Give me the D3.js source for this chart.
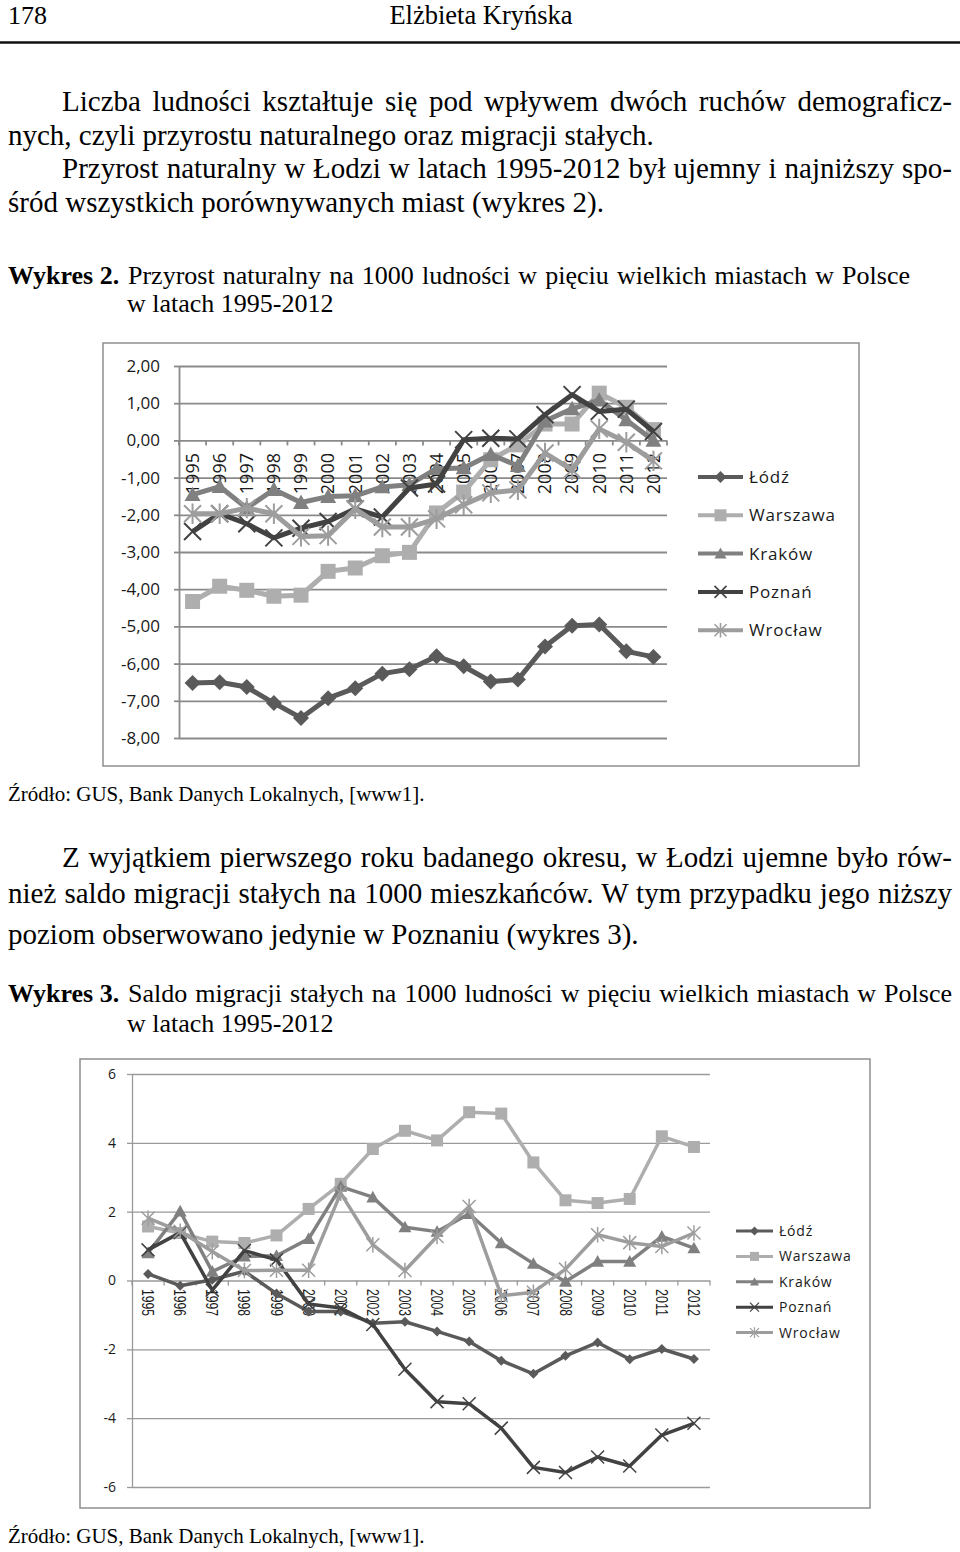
<!DOCTYPE html>
<html>
<head>
<meta charset="utf-8">
<script src="https://cdn.jsdelivr.net/npm/d3@7"></script>
<style>
  body { margin: 0; background: #fff; }
</style>
</head>
<body>
<svg id="canvas"></svg>
<script>
let years = [1995, 1996, 1997, 1998, 1999, 2000, 2001, 2002, 2003,
  2004, 2005, 2006, 2007, 2008, 2009, 2010, 2011, 2012];
let cities = ["Łódź", "Warszawa", "Kraków", "Poznań", "Wrocław"];

// Wykres 2 - przyrost naturalny na 1000 ludnosci
let natLodz = [-6.52, -6.50, -6.63, -7.06, -7.46, -6.93, -6.66, -6.27, -6.15,
  -5.80, -6.07, -6.48, -6.43, -5.54, -4.98, -4.95, -5.67, -5.82];
let natWarszawa = [-4.33, -3.92, -4.03, -4.19, -4.16, -3.52, -3.43, -3.10, -3.01,
  -1.95, -1.39, -0.52, -0.12, 0.44, 0.44, 1.27, 0.89, 0.29];
let natKrakow = [-1.46, -1.24, -1.82, -1.32, -1.67, -1.51, -1.49, -1.25, -1.19,
  -0.76, -0.74, -0.38, -0.68, 0.52, 0.85, 1.08, 0.55, 0.0];
let natPoznan = [-2.45, -1.97, -2.24, -2.62, -2.36, -2.18, -1.84, -2.06, -1.28,
  -1.17, 0.02, 0.06, 0.04, 0.69, 1.23, 0.78, 0.84, 0.24];
let natWroclaw = [-1.97, -1.97, -1.82, -1.97, -2.58, -2.56, -1.84, -2.33, -2.33,
  -2.11, -1.73, -1.41, -1.33, -0.34, -0.79, 0.31, -0.05, -0.55];

// Wykres 3 - saldo migracji stalych na 1000 ludnosci
let migLodz = [0.19, -0.15, 0.02, 0.27, -0.38, -0.90, -0.90, -1.24, -1.20,
  -1.48, -1.77, -2.33, -2.71, -2.19, -1.80, -2.29, -1.99, -2.28];
let migWarszawa = [1.57, 1.38, 1.13, 1.09, 1.31, 2.08, 2.81, 3.82, 4.35,
  4.07, 4.89, 4.85, 3.43, 2.33, 2.25, 2.37, 4.19, 3.88];
let migKrakow = [0.80, 2.01, 0.26, 0.70, 0.72, 1.21, 2.73, 2.42, 1.55,
  1.42, 1.94, 1.09, 0.49, -0.03, 0.55, 0.55, 1.28, 0.94];
let migPoznan = [0.89, 1.39, -0.28, 0.87, 0.60, -0.68, -0.80, -1.28, -2.58,
  -3.52, -3.58, -4.29, -5.43, -5.58, -5.13, -5.39, -4.49, -4.15];
let migWroclaw = [1.81, 1.43, 0.84, 0.29, 0.30, 0.30, 2.54, 1.04, 0.29,
  1.28, 2.15, -0.44, -0.34, 0.33, 1.33, 1.10, 0.99, 1.38];

let ticks1 = [2, 1, 0, -1, -2, -3, -4, -5, -6, -7, -8];
let ticks2 = [6, 4, 2, 0, -2, -4, -6];

let colors = ["#5a5a5a", "#aeaeae", "#808080", "#424242", "#9d9d9d"];
let symbols = ["diamond", "square", "triangle", "x", "star"];

let serif = "'Liberation Serif', 'Times New Roman', serif";
let sans = "'Open Sans', 'Liberation Sans', sans-serif";

let canvas = d3.select("#canvas").attr("width", 960).attr("height", 1552);

// page text around the charts (body 29px, captions 26px)
let pageText = [
  { t: "178", x: 8, y: 24, size: 26 },
  { t: "Elżbieta Kryńska", x: 481, y: 24, size: 26.5, anchor: "middle" },
  { t: "Liczba ludności kształtuje się pod wpływem dwóch ruchów demograficz-", x: 62, y: 111, size: 29, len: 890 },
  { t: "nych, czyli przyrostu naturalnego oraz migracji stałych.", x: 8, y: 145, size: 29 },
  { t: "Przyrost naturalny w Łodzi w latach 1995-2012 był ujemny i najniższy spo-", x: 62, y: 178, size: 29, len: 890 },
  { t: "śród wszystkich porównywanych miast (wykres 2).", x: 8, y: 212, size: 29 },
  { t: "Wykres 2.", x: 8, y: 284, bold: true },
  { t: "Przyrost naturalny na 1000 ludności w pięciu wielkich miastach w Polsce", x: 128, y: 284, len: 782 },
  { t: "w latach 1995-2012", x: 127, y: 312 },
  { t: "Źródło: GUS, Bank Danych Lokalnych, [www1].", x: 8, y: 801, size: 21 },
  { t: "Z wyjątkiem pierwszego roku badanego okresu, w Łodzi ujemne było rów-", x: 62, y: 867, size: 29, len: 890 },
  { t: "nież saldo migracji stałych na 1000 mieszkańców. W tym przypadku jego niższy", x: 8, y: 903, size: 29, len: 944 },
  { t: "poziom obserwowano jedynie w Poznaniu (wykres 3).", x: 8, y: 944, size: 29 },
  { t: "Wykres 3.", x: 8, y: 1002, bold: true },
  { t: "Saldo migracji stałych na 1000 ludności w pięciu wielkich miastach w Polsce", x: 128, y: 1002, len: 824 },
  { t: "w latach 1995-2012", x: 127, y: 1032 },
  { t: "Źródło: GUS, Bank Danych Lokalnych, [www1].", x: 8, y: 1543, size: 21 },
];

pageText.forEach((d) => {
  let el = canvas
    .append("text")
    .attr("x", d.x)
    .attr("y", d.y)
    .attr("font-family", serif)
    .attr("font-size", d.size || 26)
    .attr("font-weight", d.bold ? "bold" : "normal")
    .attr("text-anchor", d.anchor || "start")
    .attr("fill", "#000")
    .text(d.t);
  // justify by widening the gaps between words
  if (d.len) {
    let natural = el.node().getComputedTextLength();
    let gaps = d.t.split(" ").length - 1;
    el.attr("word-spacing", (d.len - natural) / gaps);
  }
});

canvas
  .append("line")
  .attr("x1", 0)
  .attr("x2", 960)
  .attr("y1", 42.5)
  .attr("y2", 42.5)
  .attr("stroke", "#111")
  .attr("stroke-width", 2.5);

let markerPath = (type, h) => {
  if (type == "diamond") return `M0,${-h}L${h},0L0,${h}L${-h},0Z`;
  if (type == "square") return `M${-h},${-h}H${h}V${h}H${-h}Z`;
  if (type == "triangle") return `M0,${-h}L${h},${h * 0.8}L${-h},${h * 0.8}Z`;
  let p = `M${-h},${-h}L${h},${h}M${-h},${h}L${h},${-h}`;
  if (type == "star") p += `M0,${-h * 1.2}L0,${h * 1.2}`;
  return p;
};

let drawMarker = (g, type, cx, cy, h, color, sw) => {
  let filled = type == "diamond" || type == "square" || type == "triangle";
  g.append("path")
    .attr("d", markerPath(type, h))
    .attr("transform", "translate(" + cx + "," + cy + ")")
    .attr("fill", filled ? color : "none")
    .attr("stroke", filled ? "none" : color)
    .attr("stroke-width", sw);
};

let drawChart = (cfg) => {
  let g = canvas.append("g");

  g.append("rect")
    .attr("x", cfg.frame[0])
    .attr("y", cfg.frame[1])
    .attr("width", cfg.frame[2] - cfg.frame[0])
    .attr("height", cfg.frame[3] - cfg.frame[1])
    .attr("fill", "none")
    .attr("stroke", "#8f8f8f")
    .attr("stroke-width", 1.5);

  let xScale = d3.scaleBand().domain(years).range([cfg.left, cfg.right]);
  let yScale = d3.scaleLinear().domain(cfg.domain).range([cfg.bottom, cfg.top]);
  let bw = xScale.bandwidth();

  // gridlines
  g.append("g")
    .attr("transform", "translate(" + cfg.left + ",0)")
    .call(d3.axisLeft(yScale).tickValues(cfg.ticks).tickSize(-(cfg.right - cfg.left)).tickFormat(""))
    .call((a) => a.select(".domain").remove())
    .selectAll("line")
    .attr("stroke", cfg.gridColor)
    .attr("stroke-width", cfg.gridW);

  // y axis
  let yAxis = g
    .append("g")
    .attr("transform", "translate(" + cfg.left + ",0)")
    .call(
      d3.axisLeft(yScale)
        .tickValues(cfg.ticks)
        .tickFormat(cfg.fmt)
        .tickSize(5)
        .tickSizeOuter(0)
        .tickPadding(cfg.pad)
    );
  yAxis.selectAll("path, line").attr("stroke", cfg.gridColor).attr("stroke-width", cfg.gridW);
  yAxis
    .selectAll("text")
    .attr("font-family", sans)
    .attr("font-size", cfg.labelSize)
    .attr("fill", "#1a1a1a");

  // category ticks on the zero line
  let y0 = yScale(0);
  g.selectAll(".ctick")
    .data(years.concat(["end"]))
    .enter()
    .append("line")
    .attr("x1", (d) => (d == "end" ? cfg.right : xScale(d)))
    .attr("x2", (d) => (d == "end" ? cfg.right : xScale(d)))
    .attr("y1", y0)
    .attr("y2", y0 + 5)
    .attr("stroke", cfg.gridColor)
    .attr("stroke-width", cfg.gridW);

  // year labels
  g.selectAll(".year")
    .data(years)
    .enter()
    .append("text")
    .attr("transform", (d) => "translate(" + (xScale(d) + bw / 2) + "," + cfg.yearY + ") rotate(" + cfg.yearRotate + ")")
    .attr("dy", "0.35em")
    .attr("text-anchor", cfg.yearRotate < 0 ? "end" : "start")
    .attr("font-family", cfg.yearFont)
    .attr("font-size", cfg.yearSize)
    .attr("fill", "#1a1a1a")
    .each(function () {
      if (cfg.yearLen) d3.select(this).attr("textLength", cfg.yearLen).attr("lengthAdjust", "spacingAndGlyphs");
    })
    .text((d) => d);

  // series
  let line = d3
    .line()
    .x((d, i) => xScale(years[i]) + bw / 2)
    .y((d) => yScale(d));

  cfg.series.forEach((vals, s) => {
    g.append("path")
      .datum(vals)
      .attr("d", line)
      .attr("fill", "none")
      .attr("stroke", colors[s])
      .attr("stroke-width", cfg.lineW)
      .attr("stroke-linejoin", "round");
    vals.forEach((v, i) => {
      drawMarker(g, symbols[s], xScale(years[i]) + bw / 2, yScale(v), cfg.mk[s], colors[s], cfg.mkStroke);
    });
  });

  // legend
  cities.forEach((name, s) => {
    let ly = cfg.legY + s * cfg.legStep;
    g.append("line")
      .attr("x1", cfg.legX)
      .attr("x2", cfg.legX + cfg.legW)
      .attr("y1", ly)
      .attr("y2", ly)
      .attr("stroke", colors[s])
      .attr("stroke-width", cfg.legLineW);
    drawMarker(g, symbols[s], cfg.legX + cfg.legW / 2, ly, cfg.legMk, colors[s], cfg.mkStroke * 0.8);
    g.append("text")
      .attr("x", cfg.legX + cfg.legW + cfg.legGap)
      .attr("y", ly)
      .attr("dy", "0.35em")
      .attr("font-family", sans)
      .attr("font-size", cfg.legSize)
      .attr("letter-spacing", cfg.legSpacing)
      .attr("fill", "#1a1a1a")
      .text(name);
  });
};

drawChart({
  frame: [103, 343, 859, 766],
  left: 179,
  right: 667,
  top: 366,
  bottom: 738,
  domain: [-8, 2],
  ticks: ticks1,
  fmt: (v) => v.toFixed(2).replace(".", ","),
  pad: 14,
  labelSize: 17,
  gridColor: "#8a8a8a",
  gridW: 1.8,
  yearY: 453,
  yearRotate: -90,
  yearFont: sans,
  yearSize: 18,
  lineW: 5,
  mk: [8, 7.5, 8, 8.5, 8.5],
  mkStroke: 2,
  series: [natLodz, natWarszawa, natKrakow, natPoznan, natWroclaw],
  legX: 698,
  legW: 45,
  legGap: 6,
  legY: 477,
  legStep: 38.3,
  legMk: 6,
  legLineW: 4,
  legSize: 17,
  legSpacing: 0.8,
});

drawChart({
  frame: [80, 1059, 870, 1508],
  left: 132,
  right: 710,
  top: 1074,
  bottom: 1487,
  domain: [-6, 6],
  ticks: ticks2,
  fmt: (v) => String(v),
  pad: 11,
  labelSize: 14,
  gridColor: "#9a9a9a",
  gridW: 1.3,
  yearY: 1289,
  yearRotate: 90,
  yearFont: "'Liberation Sans Narrow', 'Liberation Sans', sans-serif",
  yearSize: 17,
  yearLen: 27,
  lineW: 3.5,
  mk: [5, 6, 6.5, 6.5, 6.5],
  mkStroke: 1.5,
  series: [migLodz, migWarszawa, migKrakow, migPoznan, migWroclaw],
  legX: 736,
  legW: 37,
  legGap: 6,
  legY: 1231,
  legStep: 25.4,
  legMk: 4.5,
  legLineW: 3,
  legSize: 14,
  legSpacing: 0.8,
});
</script>
</body>
</html>
